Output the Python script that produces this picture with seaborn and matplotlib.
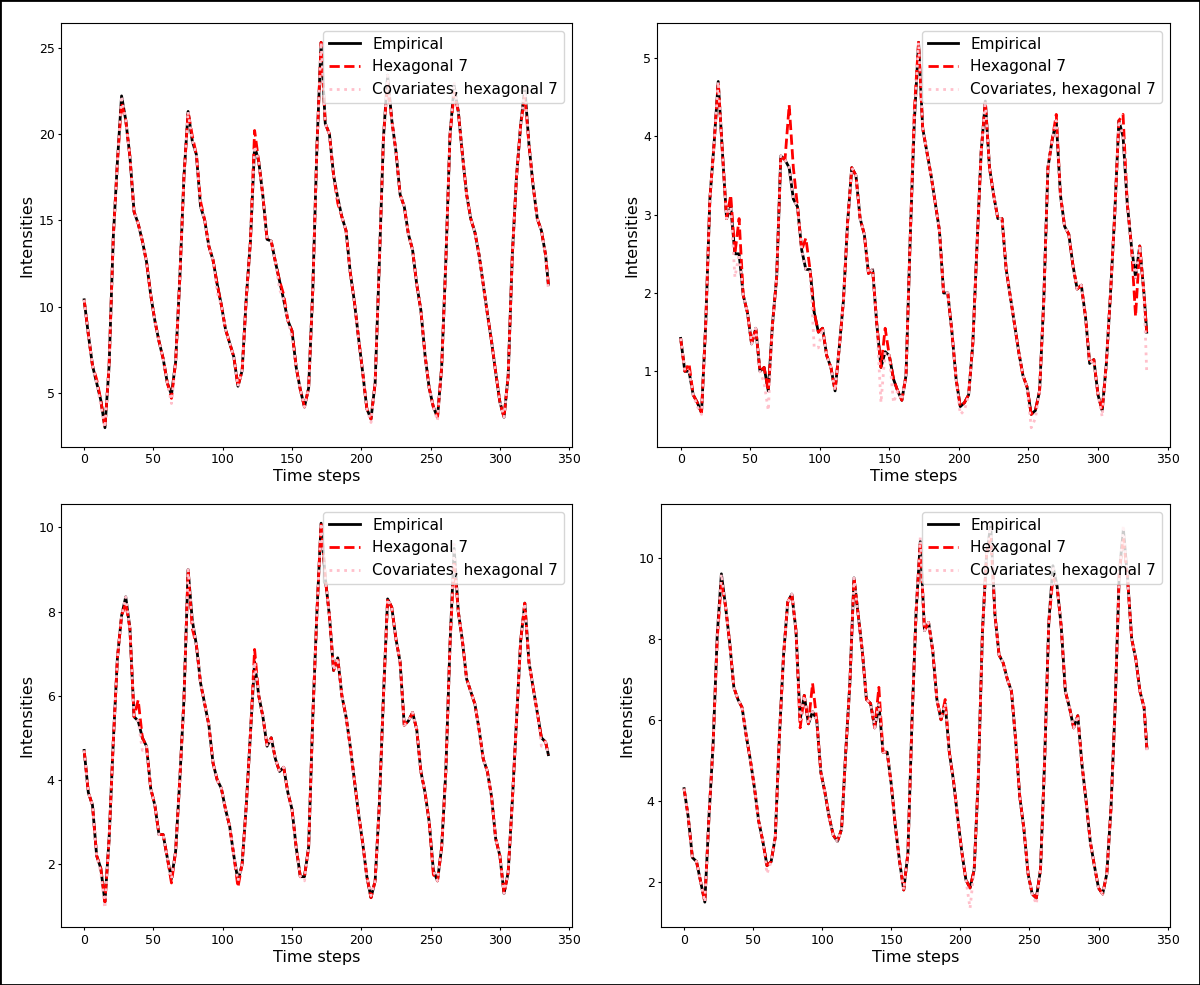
import matplotlib

matplotlib.use("Agg")

import matplotlib.pyplot as plt
import seaborn as sns
from matplotlib.patches import Rectangle


# sampled every third time step, last step kept
time_steps = list(range(0, 334, 3)) + [335]

series_labels = [
    "Empirical",
    "Hexagonal 7",
    "Covariates, hexagonal 7",
]

# top left
empirical_a = [
    10.4, 8.4, 6.6, 5.6, 4.6, 3.0, 6.6, 14.0, 18.4, 22.2,
    20.8, 18.7, 15.5, 14.8, 13.8, 12.6, 10.7, 9.2, 8.0, 7.0,
    5.6, 4.9, 6.8, 11.6, 17.5, 21.3, 19.6, 18.8, 15.8, 15.0,
    13.5, 12.7, 11.3, 10.1, 8.7, 7.9, 7.1, 5.4, 6.3, 10.5,
    13.8, 19.3, 18.4, 16.4, 13.9, 13.8, 12.6, 11.5, 10.4, 9.2,
    8.6, 6.5, 5.2, 4.2, 5.3, 11.0, 19.3, 25.3, 20.6, 20.0,
    17.6, 16.3, 15.2, 14.4, 12.0, 10.3, 8.2, 6.2, 4.1, 3.5,
    5.6, 12.5, 19.8, 23.4, 20.8, 19.0, 16.5, 15.8, 14.2, 13.3,
    11.3, 9.8, 7.2, 5.3, 4.2, 3.6, 6.5, 12.6, 19.9, 22.8,
    21.3, 18.8, 16.5, 15.1, 14.3, 13.0, 11.3, 9.6, 8.0, 6.2,
    4.5, 3.6, 6.0, 13.0, 17.5, 20.5, 22.7, 19.4, 17.0, 15.1,
    14.4, 13.0, 11.3,
]

hexagonal_a = [
    10.4, 8.4, 6.6, 5.8, 4.6, 3.0, 6.6, 14.0, 18.4, 21.8,
    20.8, 18.7, 15.5, 14.8, 13.8, 12.6, 10.7, 9.2, 8.0, 7.0,
    5.6, 4.7, 6.8, 11.6, 17.5, 21.3, 19.9, 18.8, 16.1, 15.0,
    13.5, 12.7, 11.3, 10.1, 8.7, 7.9, 7.1, 5.4, 6.3, 10.5,
    13.8, 20.2, 18.4, 16.4, 13.9, 13.8, 12.6, 11.5, 10.7, 9.2,
    8.6, 6.5, 5.2, 4.2, 5.3, 11.0, 19.3, 25.3, 20.6, 20.0,
    17.6, 16.0, 15.2, 14.4, 12.0, 10.3, 8.2, 6.2, 4.1, 3.5,
    5.6, 12.5, 19.8, 23.0, 20.8, 19.0, 16.5, 15.8, 14.2, 13.3,
    11.3, 9.8, 7.2, 5.3, 4.2, 3.6, 6.5, 12.6, 19.9, 22.4,
    21.3, 18.8, 16.5, 15.1, 14.3, 13.0, 11.3, 9.6, 8.0, 6.2,
    4.5, 3.6, 6.0, 13.0, 17.5, 20.5, 22.2, 19.4, 17.0, 15.1,
    14.4, 13.0, 11.3,
]

covariates_a = [
    10.4, 8.4, 6.6, 5.6, 4.3, 3.0, 6.6, 14.0, 18.4, 22.2,
    20.8, 18.7, 15.5, 14.8, 13.8, 12.6, 10.7, 9.2, 8.0, 7.0,
    5.6, 4.4, 6.8, 11.6, 17.5, 21.3, 19.6, 18.8, 15.8, 15.0,
    13.5, 12.7, 10.8, 10.1, 8.7, 7.9, 7.1, 5.4, 6.3, 10.5,
    13.8, 19.3, 18.4, 16.4, 13.9, 13.8, 12.6, 11.0, 10.4, 9.2,
    8.2, 6.5, 5.2, 4.2, 5.3, 11.0, 19.3, 25.3, 20.6, 20.0,
    17.6, 16.3, 15.2, 14.4, 12.0, 10.3, 8.2, 6.2, 4.1, 3.3,
    5.6, 12.5, 19.8, 23.4, 20.8, 19.0, 16.5, 15.8, 14.2, 13.3,
    11.3, 9.8, 7.2, 5.3, 4.2, 3.4, 6.5, 12.6, 19.9, 23.0,
    21.3, 18.8, 16.5, 15.1, 14.3, 13.0, 11.3, 9.6, 8.0, 6.2,
    4.5, 3.6, 6.0, 13.0, 17.5, 20.5, 22.7, 19.4, 17.0, 15.1,
    14.4, 13.0, 11.0,
]

# top right
empirical_b = [
    1.42, 1.0, 1.0, 0.7, 0.6, 0.47, 1.6, 3.2, 3.9, 4.7,
    3.8, 2.95, 3.1, 2.5, 2.5, 1.97, 1.75, 1.35, 1.55, 1.0,
    1.05, 0.75, 1.6, 2.2, 3.75, 3.7, 3.6, 3.2, 3.1, 2.55,
    2.3, 2.3, 1.75, 1.5, 1.55, 1.2, 1.05, 0.75, 1.3, 1.9,
    2.9, 3.6, 3.5, 2.95, 2.75, 2.25, 2.3, 1.6, 1.05, 1.25,
    1.2, 0.9, 0.75, 0.63, 0.95, 2.7, 4.2, 5.2, 4.1, 3.8,
    3.5, 3.15, 2.8, 2.0, 2.0, 1.5, 0.9, 0.55, 0.6, 0.7,
    1.35, 2.6, 3.8, 4.45, 3.6, 3.25, 2.95, 2.95, 2.3, 1.95,
    1.6, 1.25, 0.95, 0.8, 0.45, 0.5, 0.75, 1.9, 3.6, 3.95,
    4.2, 3.25, 2.85, 2.75, 2.35, 2.05, 2.1, 1.7, 1.1, 1.15,
    0.7, 0.5, 1.1, 2.0, 3.0, 4.2, 4.0, 3.15, 2.6, 2.2,
    2.6, 2.0, 1.5,
]

hexagonal_b = [
    1.42, 1.0, 1.1, 0.7, 0.6, 0.47, 1.6, 3.2, 3.9, 4.7,
    3.8, 2.95, 3.25, 2.5, 2.95, 1.97, 1.75, 1.35, 1.55, 1.0,
    1.05, 0.75, 1.6, 2.2, 3.75, 3.7, 4.4, 3.6, 3.1, 2.55,
    2.7, 2.3, 1.75, 1.5, 1.55, 1.2, 1.05, 0.75, 1.3, 1.9,
    2.9, 3.6, 3.5, 2.95, 2.75, 2.25, 2.3, 1.6, 1.05, 1.55,
    1.2, 0.9, 0.75, 0.63, 0.95, 2.7, 4.35, 5.2, 4.1, 3.8,
    3.5, 3.15, 2.8, 2.0, 2.0, 1.5, 0.9, 0.55, 0.6, 0.7,
    1.35, 2.6, 3.8, 4.45, 3.6, 3.25, 2.95, 2.95, 2.3, 1.95,
    1.6, 1.25, 0.95, 0.8, 0.45, 0.5, 0.75, 1.9, 3.6, 3.95,
    4.28, 3.25, 2.85, 2.75, 2.35, 2.05, 2.1, 1.7, 1.1, 1.15,
    0.7, 0.5, 1.1, 2.0, 3.0, 4.2, 4.28, 3.15, 2.6, 1.7,
    2.6, 2.0, 1.5,
]

covariates_b = [
    1.42, 1.0, 1.0, 0.7, 0.55, 0.45, 1.6, 3.2, 3.9, 4.7,
    3.8, 2.95, 3.1, 2.2, 2.5, 1.97, 1.75, 1.35, 1.55, 1.0,
    0.85, 0.5, 1.6, 2.2, 3.75, 3.7, 3.6, 3.2, 3.1, 2.55,
    2.3, 2.3, 1.3, 1.3, 1.55, 1.2, 1.05, 0.75, 1.3, 1.9,
    2.9, 3.6, 3.5, 2.95, 2.75, 2.25, 2.3, 1.6, 0.6, 1.25,
    1.2, 0.6, 0.75, 0.63, 0.95, 2.7, 4.2, 5.2, 4.1, 3.8,
    3.5, 3.15, 2.8, 2.0, 2.0, 1.5, 0.9, 0.45, 0.5, 0.7,
    1.35, 2.6, 3.8, 4.45, 3.6, 3.25, 2.95, 2.95, 2.3, 1.95,
    1.6, 1.25, 0.95, 0.8, 0.28, 0.4, 0.75, 1.9, 3.6, 3.95,
    4.2, 3.25, 2.85, 2.75, 2.35, 2.05, 2.1, 1.7, 1.1, 1.15,
    0.7, 0.42, 1.1, 2.0, 3.0, 4.2, 4.0, 3.15, 2.6, 2.2,
    2.6, 2.0, 1.0,
]

# bottom left
empirical_c = [
    4.7, 3.7, 3.4, 2.2, 1.9, 1.1, 2.6, 4.9, 6.9, 7.9,
    8.35, 7.6, 5.5, 5.4, 5.0, 4.8, 3.8, 3.4, 2.7, 2.7,
    2.15, 1.65, 2.3, 4.0, 5.9, 9.0, 7.8, 7.2, 6.3, 5.8,
    5.3, 4.4, 4.0, 3.8, 3.3, 2.9, 2.2, 1.6, 2.0, 3.4,
    5.1, 6.8, 6.0, 5.5, 4.8, 5.0, 4.5, 4.2, 4.3, 3.7,
    3.3, 2.4, 1.7, 1.7, 2.4, 5.5, 8.0, 10.1, 8.8, 7.9,
    6.6, 6.9, 6.0, 5.5, 4.8, 4.0, 3.2, 2.5, 1.7, 1.2,
    1.6, 3.4, 6.0, 8.3, 8.1, 7.35, 6.8, 5.3, 5.4, 5.6,
    5.2, 4.2, 3.7, 3.0, 1.85, 1.6, 2.4, 4.2, 7.2, 9.5,
    8.0, 7.3, 6.4, 6.1, 5.8, 5.2, 4.5, 4.2, 3.6, 2.6,
    2.2, 1.3, 1.8, 3.5, 5.4, 7.3, 8.2, 6.8, 6.2, 5.6,
    5.0, 4.9, 4.6,
]

hexagonal_c = [
    4.7, 3.7, 3.4, 2.2, 1.9, 1.1, 2.6, 4.9, 6.9, 7.9,
    8.2, 7.6, 5.5, 5.9, 5.0, 4.8, 3.8, 3.4, 2.7, 2.7,
    2.15, 1.55, 2.3, 4.0, 5.9, 9.0, 7.6, 7.2, 6.3, 5.8,
    5.3, 4.4, 4.0, 3.8, 3.3, 2.9, 2.2, 1.45, 2.0, 3.4,
    5.1, 7.1, 6.0, 5.5, 4.8, 5.0, 4.5, 4.2, 4.3, 3.7,
    3.3, 2.4, 1.7, 1.7, 2.4, 5.5, 8.0, 10.1, 8.8, 7.9,
    6.6, 6.9, 6.0, 5.5, 4.8, 4.0, 3.2, 2.5, 1.7, 1.2,
    1.6, 3.4, 6.0, 8.3, 8.1, 7.35, 6.8, 5.3, 5.4, 5.6,
    5.2, 4.2, 3.7, 3.0, 1.75, 1.6, 2.4, 4.2, 7.2, 9.2,
    8.0, 7.3, 6.4, 6.1, 5.8, 5.2, 4.5, 4.2, 3.6, 2.6,
    2.2, 1.3, 1.8, 3.5, 5.4, 7.3, 8.2, 6.8, 6.2, 5.6,
    5.0, 4.9, 4.6,
]

covariates_c = [
    4.7, 3.7, 3.4, 2.2, 1.8, 0.95, 2.6, 4.9, 6.9, 7.9,
    8.35, 7.6, 5.5, 5.4, 4.7, 4.8, 3.8, 3.4, 2.7, 2.7,
    2.15, 1.65, 2.3, 4.0, 5.9, 9.0, 7.8, 7.2, 6.3, 5.8,
    5.3, 4.4, 4.0, 3.8, 3.3, 2.9, 2.2, 1.6, 2.0, 3.4,
    5.1, 6.8, 6.0, 5.5, 4.8, 5.0, 4.5, 4.2, 4.3, 3.7,
    3.3, 2.4, 1.7, 1.6, 2.4, 5.5, 8.0, 10.1, 8.8, 7.9,
    6.6, 6.9, 6.0, 5.5, 4.8, 4.0, 3.2, 2.5, 1.7, 1.25,
    1.6, 3.4, 6.0, 8.3, 8.1, 7.35, 6.8, 5.3, 5.4, 5.6,
    5.2, 4.2, 3.7, 3.0, 1.85, 1.6, 2.4, 4.2, 7.2, 9.6,
    8.0, 7.3, 6.4, 6.1, 5.8, 5.2, 4.5, 4.2, 3.6, 2.6,
    2.2, 1.3, 1.8, 3.5, 5.4, 7.3, 8.2, 6.8, 6.2, 5.6,
    4.8, 4.9, 4.6,
]

# bottom right
empirical_d = [
    4.3, 3.6, 2.6, 2.5, 2.0, 1.5, 3.6, 5.4, 8.1, 9.6,
    8.8, 7.9, 6.8, 6.5, 6.3, 5.6, 5.0, 4.3, 3.5, 3.0,
    2.4, 2.5, 3.1, 5.6, 7.6, 8.9, 9.1, 8.2, 6.0, 6.6,
    5.9, 6.2, 6.0, 4.7, 4.2, 3.6, 3.15, 3.0, 3.3, 5.2,
    6.9, 9.5, 8.6, 7.7, 6.5, 6.4, 5.8, 6.4, 5.2, 5.2,
    4.4, 3.35, 2.5, 1.8, 2.7, 6.0, 8.7, 10.4, 8.2, 8.4,
    7.7, 6.5, 6.0, 6.4, 5.2, 4.5, 3.6, 2.75, 2.05, 1.85,
    2.3, 4.6, 8.2, 10.1, 10.8, 8.6, 7.6, 7.4, 7.0, 6.7,
    5.5, 4.1, 3.3, 2.2, 1.7, 1.6, 2.3, 5.0, 8.4, 9.8,
    9.3, 8.3, 6.7, 6.3, 5.8, 6.1, 4.9, 4.0, 3.0, 2.4,
    1.85, 1.7, 2.2, 3.8, 6.3, 9.6, 10.7, 9.5, 8.0, 7.5,
    6.7, 6.3, 5.3,
]

hexagonal_d = [
    4.3, 3.6, 2.6, 2.5, 2.0, 1.5, 3.6, 5.4, 8.0, 9.4,
    8.8, 7.9, 6.8, 6.5, 6.3, 5.6, 5.0, 4.3, 3.5, 3.0,
    2.4, 2.5, 3.1, 5.6, 7.6, 8.9, 9.1, 8.2, 5.8, 6.6,
    5.9, 6.9, 6.0, 4.7, 4.2, 3.6, 3.15, 3.0, 3.3, 5.2,
    6.9, 9.5, 8.6, 7.7, 6.5, 6.4, 5.8, 6.8, 5.2, 5.2,
    4.4, 3.35, 2.5, 1.8, 2.7, 6.0, 8.7, 10.4, 8.2, 8.4,
    7.7, 6.5, 6.0, 6.5, 5.2, 4.5, 3.6, 2.75, 2.05, 1.85,
    2.3, 4.6, 8.2, 10.1, 10.5, 8.6, 7.6, 7.4, 7.0, 6.7,
    5.5, 4.1, 3.3, 2.2, 1.7, 1.6, 2.3, 5.0, 8.4, 9.5,
    9.3, 8.3, 6.7, 6.3, 5.8, 6.1, 4.9, 4.0, 3.0, 2.4,
    1.85, 1.7, 2.2, 3.8, 6.3, 9.6, 10.5, 9.5, 8.0, 7.5,
    6.7, 6.3, 5.3,
]

covariates_d = [
    4.3, 3.6, 2.6, 2.5, 2.0, 1.5, 3.6, 5.4, 8.1, 9.6,
    8.8, 7.9, 6.8, 6.5, 6.3, 5.6, 5.0, 4.3, 3.5, 3.0,
    2.2, 2.5, 3.1, 5.6, 7.6, 8.9, 9.1, 8.2, 6.0, 6.6,
    5.9, 6.2, 6.0, 4.7, 4.2, 3.6, 3.15, 3.0, 3.3, 5.2,
    6.9, 9.5, 8.6, 7.7, 6.5, 6.4, 5.8, 6.4, 5.2, 5.2,
    4.4, 3.35, 2.5, 1.8, 2.7, 6.0, 8.7, 10.5, 8.2, 8.4,
    7.7, 6.5, 6.0, 6.4, 5.2, 4.5, 3.6, 2.75, 2.05, 1.35,
    2.3, 4.6, 8.2, 10.1, 10.85, 8.6, 7.6, 7.4, 7.0, 6.7,
    5.5, 4.1, 3.3, 2.2, 1.7, 1.45, 2.3, 5.0, 8.4, 9.8,
    9.3, 8.3, 6.7, 6.3, 5.8, 6.1, 4.9, 4.0, 3.0, 2.4,
    1.85, 1.7, 2.2, 3.8, 6.3, 9.6, 10.8, 9.5, 8.0, 7.5,
    6.7, 6.3, 5.2,
]


def draw_panel(
    axis,
    empirical: list,
    hexagonal: list,
    covariates: list,
) -> None:
    """
    Empirical intensities against the two fitted models.
    """

    sns.lineplot(
        x=time_steps,
        y=empirical,
        color="black",
        linewidth=2,
        label=series_labels[0],
        ax=axis,
    )

    sns.lineplot(
        x=time_steps,
        y=hexagonal,
        color="red",
        linewidth=2,
        linestyle="--",
        label=series_labels[1],
        ax=axis,
    )

    sns.lineplot(
        x=time_steps,
        y=covariates,
        color="pink",
        linewidth=2,
        linestyle=":",
        label=series_labels[2],
        ax=axis,
    )

    axis.set_xlabel(
        "Time steps",
        fontsize=11.5,
        labelpad=2,
    )

    axis.set_ylabel(
        "Intensities",
        fontsize=11.5,
        labelpad=3,
    )

    axis.tick_params(
        labelsize=9,
        length=2.5,
        pad=2,
    )

    axis.legend(
        loc="upper right",
        fontsize=11,
    )


figure = plt.figure(
    figsize=(12, 9.85),
    dpi=100,
)

panels = [
    (empirical_a, hexagonal_a, covariates_a),
    (empirical_b, hexagonal_b, covariates_b),
    (empirical_c, hexagonal_c, covariates_c),
    (empirical_d, hexagonal_d, covariates_d),
]

boxes = [
    [0.0508, 0.5462, 0.4255, 0.4304],
    [0.5478, 0.5462, 0.4272, 0.4304],
    [0.0508, 0.0584, 0.4255, 0.4300],
    [0.5508, 0.0584, 0.4242, 0.4300],
]

for (empirical, hexagonal, covariates), box in zip(
    panels,
    boxes,
):

    axis = figure.add_axes(box)

    draw_panel(
        axis,
        empirical,
        hexagonal,
        covariates,
    )

# thin frame round the whole picture
figure.patches.append(
    Rectangle(
        (0, 0),
        1,
        1,
        transform=figure.transFigure,
        fill=False,
        edgecolor="black",
        linewidth=2,
    )
)

plt.savefig(
    "out.png",
    dpi=100,
)

plt.close()
